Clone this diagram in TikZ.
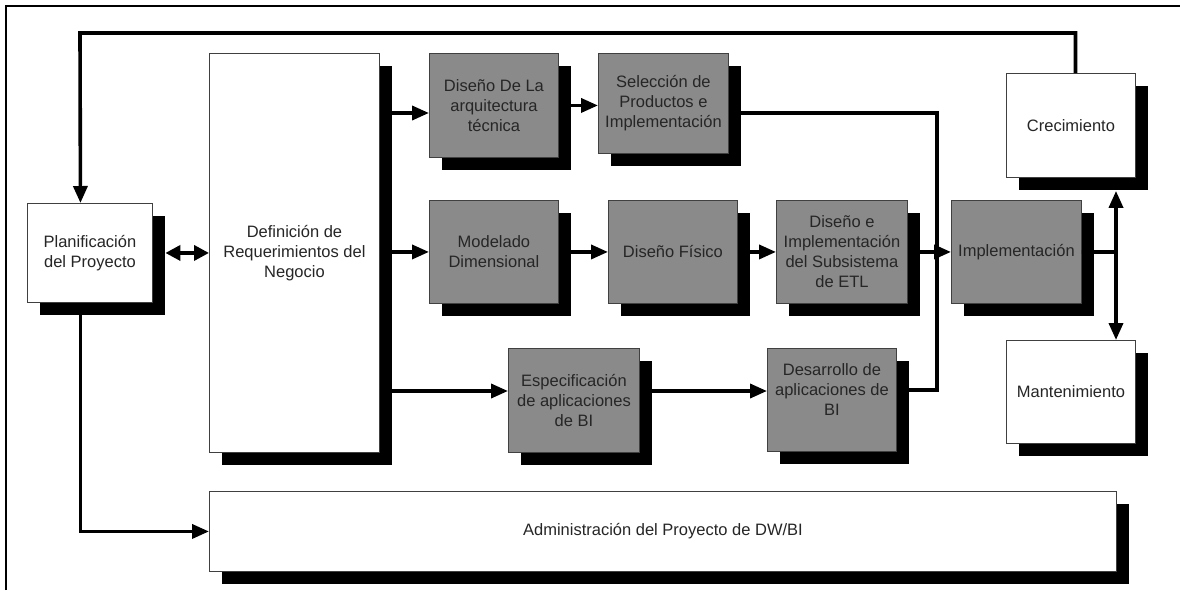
\documentclass[tikz,border=0pt]{standalone}
\usepackage{fontspec}
\setmainfont{Liberation Sans}
\usetikzlibrary{arrows.meta,shadows,calc}
\definecolor{boxgray}{HTML}{8A8A8A}
\definecolor{txt}{HTML}{262626}
\begin{document}
\begin{tikzpicture}[x=1pt,y=-1pt,
  box/.style={draw=black!75, line width=0.9pt, fill=white, align=center, inner sep=2pt,
    anchor=north west, text=txt, font=\fontsize{16.5}{20}\selectfont,
    drop shadow={shadow xshift=12.5pt, shadow yshift=-12.5pt, fill=black, opacity=1}},
  gbox/.style={box, fill=boxgray},
  conn/.style={line width=3.6pt, black},
  arr/.style={conn, -{Triangle[length=17pt,width=14pt]}},
  darr/.style={conn, {Triangle[length=15pt,width=15pt]}-{Triangle[length=15pt,width=15pt]}},
  frame/.style={line width=1.8pt, black}
]
\useasboundingbox (0,0) rectangle (1180,590);
% frame
\coordinate (fTL) at (6,6);
\coordinate (fTR) at (1180,6);
\coordinate (fBL) at (6,590);
\draw[frame] (fBL) -- (fTL) -- (fTR);

% boxes
\node[box, minimum width=125pt, minimum height=99pt] (plan) at (27,203) {Planificación\\del Proyecto};
\node[box, minimum width=170pt, minimum height=399pt] (def) at (209,53) {Definición de\\Requerimientos del\\Negocio};
\node[gbox, minimum width=129pt, minimum height=104pt] (arq) at (429,53) {Diseño De La\\arquitectura\\técnica};
\node[gbox, minimum width=130pt, minimum height=100pt] (sel) at (598,53) {Selección de\\Productos e\\Implementación};
\node[gbox, minimum width=129pt, minimum height=103pt] (mod) at (429,200) {Modelado\\Dimensional};
\node[gbox, minimum width=129pt, minimum height=103pt] (fis) at (608,200) {Diseño Físico};
\node[gbox, minimum width=131pt, minimum height=103pt] (etl) at (776,200) {Diseño e\\Implementación\\del Subsistema\\de ETL};
\node[gbox, minimum width=130pt, minimum height=103pt] (imp) at (951,200) {Implementación};
\node[box, minimum width=129pt, minimum height=104pt] (cre) at (1006,73) {Crecimiento};
\node[box, minimum width=129pt, minimum height=103pt] (man) at (1006,340) {Mantenimiento};
\node[gbox, minimum width=131pt, minimum height=104pt] (esp) at (508,348) {Especificación\\de aplicaciones\\de BI};
\node[gbox, minimum width=129pt, minimum height=103pt] (des) at (767,348) {Desarrollo de\\aplicaciones de\\BI\\\mbox{}};
\node[box, minimum width=907pt, minimum height=80pt] (adm) at (209,491) {Administración del Proyecto de DW/BI};

% helper coordinates
\coordinate (topL) at (80,33);
\coordinate (yA) at (0,113);
\coordinate (yC) at (0,391);
\coordinate (jT) at (937,113);
\coordinate (jB) at (937,390);
\coordinate (jI) at (1116,252);

% connectors
\draw[arr] ([xshift=4.5]cre.north) |- (topL) -- ([xshift=-9.5]plan.north);
\draw[darr] ([xshift=12.5]plan.east) -- (def.west);
\draw[arr] (def.east |- yA) -- (arq.west |- yA);
\draw[arr] (def.east |- mod.west) -- (mod.west);
\draw[arr] (def.east |- yC) -- (esp.west |- yC);
\draw[arr] (arq.east) -- (arq.east -| sel.west);
\draw[arr] (mod.east) -- (fis.west);
\draw[arr] (fis.east) -- (etl.west);
\draw[arr] (esp.east |- yC) -- (des.west |- yC);
\draw[conn] (sel.east |- jT) -- (jT) -- (jB) -- (des.east |- jB);
\draw[arr] (etl.east) -- (imp.west);
\draw[conn] (imp.east) -- (jI);
\draw[arr] (jI) -- ([yshift=-13pt]cre.south -| jI);
\draw[arr] (jI) -- (man.north -| jI);
\draw[arr] ([xshift=-9.5]plan.south) |- (adm.west);
\end{tikzpicture}
\end{document}
